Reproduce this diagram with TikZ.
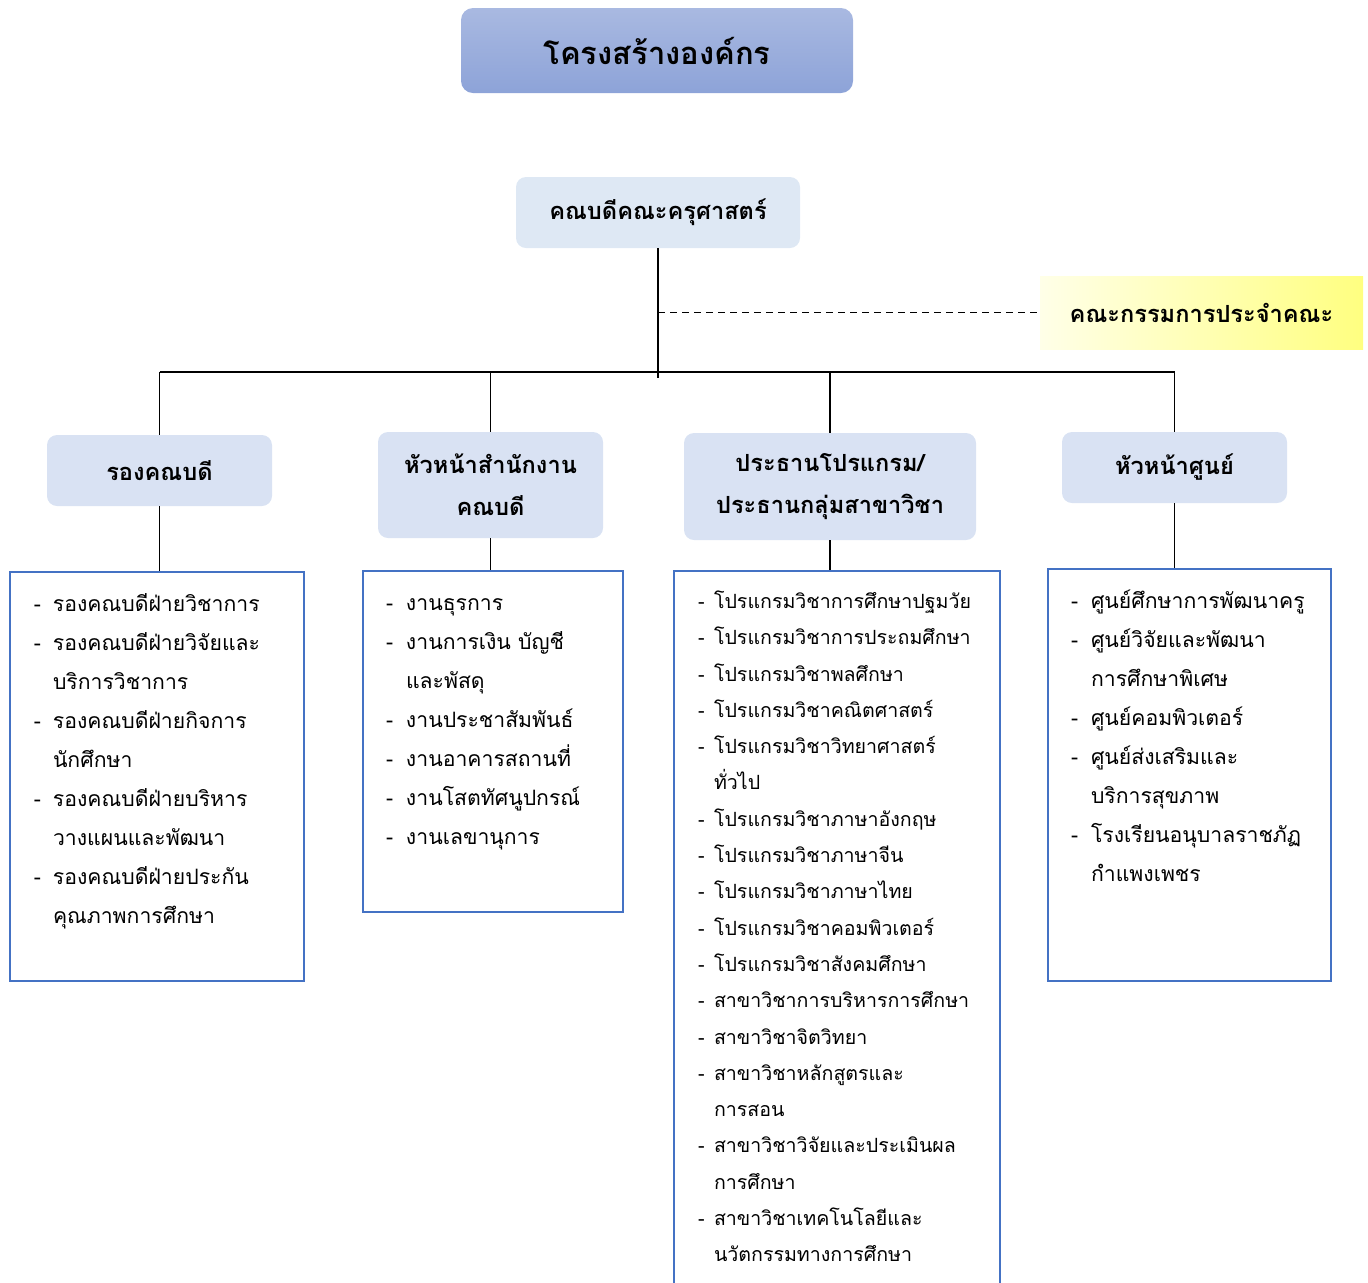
\documentclass[tikz,border=0pt]{standalone}
\usepackage{fontspec}
\newfontfamily\thaifont[Script=Thai]{Loma}
\usetikzlibrary{positioning}

\definecolor{titletop}{HTML}{A9B9E1}
\definecolor{titlebot}{HTML}{8DA3D8}
\definecolor{deanfill}{HTML}{DEE8F4}
\definecolor{headfill}{HTML}{D9E2F3}
\definecolor{listline}{HTML}{4472C4}
\definecolor{cmtleft}{HTML}{FFFFE8}
\definecolor{cmtright}{HTML}{FFFF80}

\newlength\dashw
\newcommand{\li}[1]{\strut\makebox[\dashw][l]{-}#1}
\newcommand{\lc}[1]{\strut\hspace*{\dashw}#1}
\newcommand{\listtext}[5]{\parbox[t][#2][t]{#1}{\setlength\dashw{#4}\leftskip=#3\relax\parindent=0pt\vspace*{6pt}#5}}

\begin{document}
\begin{tikzpicture}[x=0.5pt,y=-0.5pt,
    titlebox/.style={rounded corners=6pt,top color=titletop,bottom color=titlebot,minimum width=196pt,minimum height=42.5pt,font=\thaifont\bfseries\fontsize{15.5}{20}\selectfont},
    deanbox/.style={rounded corners=5pt,fill=deanfill,minimum width=142pt,minimum height=35.5pt,font=\thaifont\bfseries\fontsize{11.8}{15}\selectfont},
    headbox/.style={rounded corners=5pt,fill=headfill,minimum width=112.5pt,align=center,font=\thaifont\bfseries\fontsize{11.8}{21}\selectfont},
    cmtbox/.style={left color=cmtleft,right color=cmtright,minimum width=161.5pt,minimum height=36.5pt,font=\thaifont\bfseries\fontsize{11.8}{15}\selectfont},
    listbox/.style={draw=listline,line width=1pt,fill=white,inner sep=0pt,anchor=north west,font=\thaifont\fontsize{10.6}{19.5}\selectfont},
    link/.style={line width=0.9pt}]
  \useasboundingbox (0,0) rectangle (1368,1282);
  \clip (0,0) rectangle (1368,1282);

  % top of the chart
  \node[titlebox] (title) at (657,50.5) {โครงสร้างองค์กร};
  \node[deanbox] (dean) at (658,212.5) {คณบดีคณะครุศาสตร์};
  \node[cmtbox] (cmt) at (1201.5,312.5) {คณะกรรมการประจำคณะ};

  % second level
  \node[headbox,minimum height=35.5pt] (vp) at (159.5,470.5) {รองคณบดี};
  \node[headbox,minimum height=53pt] (office) at (490.5,485) {หัวหน้าสำนักงาน\\คณบดี};
  \node[headbox,minimum width=146pt,minimum height=53.5pt] (prog) at (830,486.5) {ประธานโปรแกรม/\\ประธานกลุ่มสาขาวิชา};
  \node[headbox,minimum height=35.5pt] (ctr) at (1174.5,467.5) {หัวหน้าศูนย์};

  % lists
  \node[listbox] (lvp) at (9,571) {\listtext{147pt}{204.5pt}{12pt}{9.5pt}{%
    \li{รองคณบดีฝ่ายวิชาการ}\\
    \li{รองคณบดีฝ่ายวิจัยและ}\\
    \lc{บริการวิชาการ}\\
    \li{รองคณบดีฝ่ายกิจการ}\\
    \lc{นักศึกษา}\\
    \li{รองคณบดีฝ่ายบริหาร}\\
    \lc{วางแผนและพัฒนา}\\
    \li{รองคณบดีฝ่ายประกัน}\\
    \lc{คุณภาพการศึกษา}}};
  \node[listbox] (loffice) at (362,570) {\listtext{130pt}{170.5pt}{11.5pt}{10pt}{%
    \li{งานธุรการ}\\
    \li{งานการเงิน บัญชี}\\
    \lc{และพัสดุ}\\
    \li{งานประชาสัมพันธ์}\\
    \li{งานอาคารสถานที่}\\
    \li{งานโสตทัศนูปกรณ์}\\
    \li{งานเลขานุการ}}};
  \node[listbox,font=\thaifont\fontsize{9.8}{18.15}\selectfont] (lprog) at (673,570) {\listtext{163pt}{380pt}{12pt}{8pt}{%
    \li{โปรแกรมวิชาการศึกษาปฐมวัย}\\
    \li{โปรแกรมวิชาการประถมศึกษา}\\
    \li{โปรแกรมวิชาพลศึกษา}\\
    \li{โปรแกรมวิชาคณิตศาสตร์}\\
    \li{โปรแกรมวิชาวิทยาศาสตร์}\\
    \lc{ทั่วไป}\\
    \li{โปรแกรมวิชาภาษาอังกฤษ}\\
    \li{โปรแกรมวิชาภาษาจีน}\\
    \li{โปรแกรมวิชาภาษาไทย}\\
    \li{โปรแกรมวิชาคอมพิวเตอร์}\\
    \li{โปรแกรมวิชาสังคมศึกษา}\\
    \li{สาขาวิชาการบริหารการศึกษา}\\
    \li{สาขาวิชาจิตวิทยา}\\
    \li{สาขาวิชาหลักสูตรและ}\\
    \lc{การสอน}\\
    \li{สาขาวิชาวิจัยและประเมินผล}\\
    \lc{การศึกษา}\\
    \li{สาขาวิชาเทคโนโลยีและ}\\
    \lc{นวัตกรรมทางการศึกษา}}};
  \node[listbox] (lctr) at (1047,568) {\listtext{141.5pt}{206pt}{11.5pt}{10pt}{%
    \li{ศูนย์ศึกษาการพัฒนาครู}\\
    \li{ศูนย์วิจัยและพัฒนา}\\
    \lc{การศึกษาพิเศษ}\\
    \li{ศูนย์คอมพิวเตอร์}\\
    \li{ศูนย์ส่งเสริมและ}\\
    \lc{บริการสุขภาพ}\\
    \li{โรงเรียนอนุบาลราชภัฏ}\\
    \lc{กำแพงเพชร}}};

  % connectors
  \coordinate (bus) at (0,372);
  \draw[link] (dean.south) -- ++(0,130) coordinate (hub);
  \draw[link] (vp.north |- bus) -- (ctr.north |- bus);
  \draw[link,dash pattern=on 3.5pt off 2.5pt] (dean.south |- cmt.west) -- (cmt.west);
  \foreach \n in {vp,office,prog,ctr}
    \draw[link] (\n.north |- bus) -- (\n.north);
  \foreach \n/\m in {vp/lvp,office/loffice,prog/lprog,ctr/lctr}
    \draw[link] (\n.south) -- (\n.south |- \m.north);
\end{tikzpicture}
\end{document}
